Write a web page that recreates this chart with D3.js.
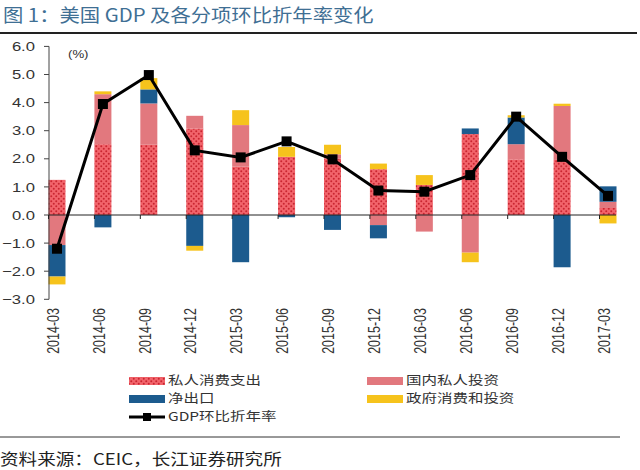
<!DOCTYPE html>
<html>
<head>
<meta charset="utf-8">
<script src="https://cdn.jsdelivr.net/npm/d3@7/dist/d3.min.js"></script>
<style>
  body { margin: 0; background: #fff; }
  svg { display: block; font-family: "Liberation Sans", Arial, "Noto Sans CJK SC", sans-serif; }
</style>
</head>
<body>
<div id="chart"></div>
<script>
// quarters on the x axis
var categories = ["2014-03", "2014-06", "2014-09", "2014-12", "2015-03", "2015-06", "2015-09",
                  "2015-12", "2016-03", "2016-06", "2016-09", "2016-12", "2017-03"];

// contributions, percentage points (annualised q/q)
var consumption = [1.25, 2.52, 2.50, 3.08, 1.72, 2.07, 2.01, 1.63, 1.07, 2.88, 1.98, 1.96, 0.25];
var investment  = [-1.07, 1.78, 1.47, 0.45, 1.48, 0.00, 0.15, -0.36, -0.59, -1.34, 0.54, 1.92, 0.22];
var netExports  = [-1.12, -0.44, 0.50, -1.10, -1.68, -0.08, -0.53, -0.47, 0.00, 0.20, 0.95, -1.86, 0.55];
var government  = [-0.28, 0.10, 0.40, -0.17, 0.53, 0.35, 0.34, 0.20, 0.35, -0.34, 0.08, 0.08, -0.30];
var gdp         = [-1.20, 3.95, 4.98, 2.30, 2.05, 2.62, 1.98, 0.87, 0.83, 1.42, 3.50, 2.07, 0.68];

var yTicks = [-3, -2, -1, 0, 1, 2, 3, 4, 5, 6];

var width = 640, height = 470;
var CJK = "\"Noto Sans CJK SC\", \"Liberation Sans\", sans-serif";

var svg = d3.select("#chart").append("svg")
    .attr("width", width)
    .attr("height", height);

// consumption pattern: red with darker dots
var pat = svg.append("defs").append("pattern")
    .attr("id", "dots")
    .attr("patternUnits", "userSpaceOnUse")
    .attr("width", 5).attr("height", 5);
pat.append("rect").attr("width", 5).attr("height", 5).attr("fill", "#f2646b");
pat.append("circle").attr("cx", 1.25).attr("cy", 1.25).attr("r", 1).attr("fill", "#c92631");
pat.append("circle").attr("cx", 3.75).attr("cy", 3.75).attr("r", 1).attr("fill", "#c92631");

var keys = ["consumption", "investment", "netExports", "government"];
var colors = { consumption: "url(#dots)", investment: "#e2787e", netExports: "#1c5b8e", government: "#f6c31c" };

var table = categories.map(function(c, i) {
  return { cat: c, consumption: consumption[i], investment: investment[i],
           netExports: netExports[i], government: government[i], gdp: gdp[i] };
});

var x = d3.scalePoint().domain(categories).range([49, 616]).padding(0.174);
var y = d3.scaleLinear().domain([-3, 6]).range([299.3, 46.4]);
var barW = 17;

// text in the original looks horizontally stretched
function stretched(sel, px, py, sx, extra) {
  sel.attr("transform", "translate(" + px + "," + py + ") scale(" + sx + ",1)" + (extra || ""));
  return sel;
}

// title
stretched(svg.append("text"), 3, 22, 1.13)
    .attr("font-family", CJK)
    .attr("font-size", 18)
    .attr("fill", "#3f6f94")
    .text("图 1：美国 GDP 及各分项环比折年率变化");

svg.append("line")
    .attr("x1", 0).attr("x2", 637).attr("y1", 33).attr("y2", 33)
    .attr("stroke", "#222").attr("stroke-width", 1.8);

// stacked bars
var series = d3.stack().keys(keys).offset(d3.stackOffsetDiverging)(table);

svg.append("g").selectAll("g")
  .data(series)
  .join("g")
    .attr("fill", function(d) { return colors[d.key]; })
  .selectAll("rect")
  .data(function(d) { return d; })
  .join("rect")
    .attr("x", function(d) { return x(d.data.cat) - barW / 2; })
    .attr("width", barW)
    .attr("y", function(d) { return y(Math.max(d[0], d[1])); })
    .attr("height", function(d) { return Math.abs(y(d[0]) - y(d[1])); });

// y axis
var yAxis = svg.append("g").attr("transform", "translate(49,0)");
yAxis.append("line").attr("y1", y(6)).attr("y2", y(-3)).attr("stroke", "#444");
yAxis.selectAll("line.tk")
  .data(yTicks)
  .join("line")
    .attr("class", "tk")
    .attr("x1", -5).attr("x2", 0)
    .attr("y1", function(d) { return y(d); })
    .attr("y2", function(d) { return y(d); })
    .attr("stroke", "#444");
yTicks.forEach(function(t) {
  stretched(yAxis.append("text"), -14, y(t), 1.28)
      .attr("text-anchor", "end")
      .attr("dy", "0.36em")
      .attr("font-size", 13)
      .attr("fill", "#333")
      .text(d3.format(".1f")(t));
});

// zero line and category ticks
svg.append("line")
    .attr("x1", 49).attr("x2", 616).attr("y1", y(0)).attr("y2", y(0))
    .attr("stroke", "#222");
svg.append("g").selectAll("line")
  .data(categories)
  .join("line")
    .attr("x1", function(d) { return x(d) - barW / 2; })
    .attr("x2", function(d) { return x(d) - barW / 2; })
    .attr("y1", y(0)).attr("y2", y(0) + 4)
    .attr("stroke", "#222");

// x labels, rotated
categories.forEach(function(c) {
  stretched(svg.append("text"), x(c) - 4, 308, 1.3, " rotate(-90)")
      .attr("text-anchor", "end")
      .attr("dy", "0.35em")
      .attr("font-size", 12.5)
      .attr("fill", "#333")
      .text(c);
});

stretched(svg.append("text"), 68, 58, 1.2)
    .attr("font-size", 11)
    .attr("fill", "#333")
    .text("(%)");

// GDP line
svg.append("path")
    .datum(table)
    .attr("fill", "none")
    .attr("stroke", "#000")
    .attr("stroke-width", 3)
    .attr("d", d3.line().x(function(d) { return x(d.cat); }).y(function(d) { return y(d.gdp); }));

svg.append("g").selectAll("rect")
  .data(table)
  .join("rect")
    .attr("x", function(d) { return x(d.cat) - 5; })
    .attr("y", function(d) { return y(d.gdp) - 5; })
    .attr("width", 10).attr("height", 10)
    .attr("fill", "#000");

// legend
var legendItems = [
  { label: "私人消费支出", fill: colors.consumption, x: 129, y: 381 },
  { label: "国内私人投资", fill: colors.investment, x: 367, y: 381 },
  { label: "净出口", fill: colors.netExports, x: 129, y: 399 },
  { label: "政府消费和投资", fill: colors.government, x: 367, y: 399 }
];
legendItems.forEach(function(it) {
  svg.append("rect")
      .attr("x", it.x).attr("y", it.y - 4)
      .attr("width", 36).attr("height", 8)
      .attr("fill", it.fill);
  stretched(svg.append("text"), it.x + 39, it.y, 1.25)
      .attr("dy", "0.36em")
      .attr("font-family", CJK)
      .attr("font-size", 12.4)
      .attr("fill", "#333")
      .text(it.label);
});
svg.append("line")
    .attr("x1", 129).attr("x2", 165).attr("y1", 417).attr("y2", 417)
    .attr("stroke", "#000").attr("stroke-width", 3);
svg.append("rect")
    .attr("x", 143).attr("y", 413).attr("width", 8).attr("height", 8).attr("fill", "#000");
stretched(svg.append("text"), 168, 417, 1.25)
    .attr("dy", "0.36em")
    .attr("font-family", CJK)
    .attr("font-size", 12.4)
    .attr("fill", "#333")
    .text("GDP环比折年率");

// source
svg.append("line")
    .attr("x1", 0).attr("x2", 620).attr("y1", 437).attr("y2", 437)
    .attr("stroke", "#333").attr("stroke-width", 1);
stretched(svg.append("text"), 0, 459, 1.2)
    .attr("dy", "0.36em")
    .attr("font-family", CJK)
    .attr("font-size", 15.5)
    .attr("fill", "#222")
    .text("资料来源：CEIC，长江证券研究所");
</script>
</body>
</html>
